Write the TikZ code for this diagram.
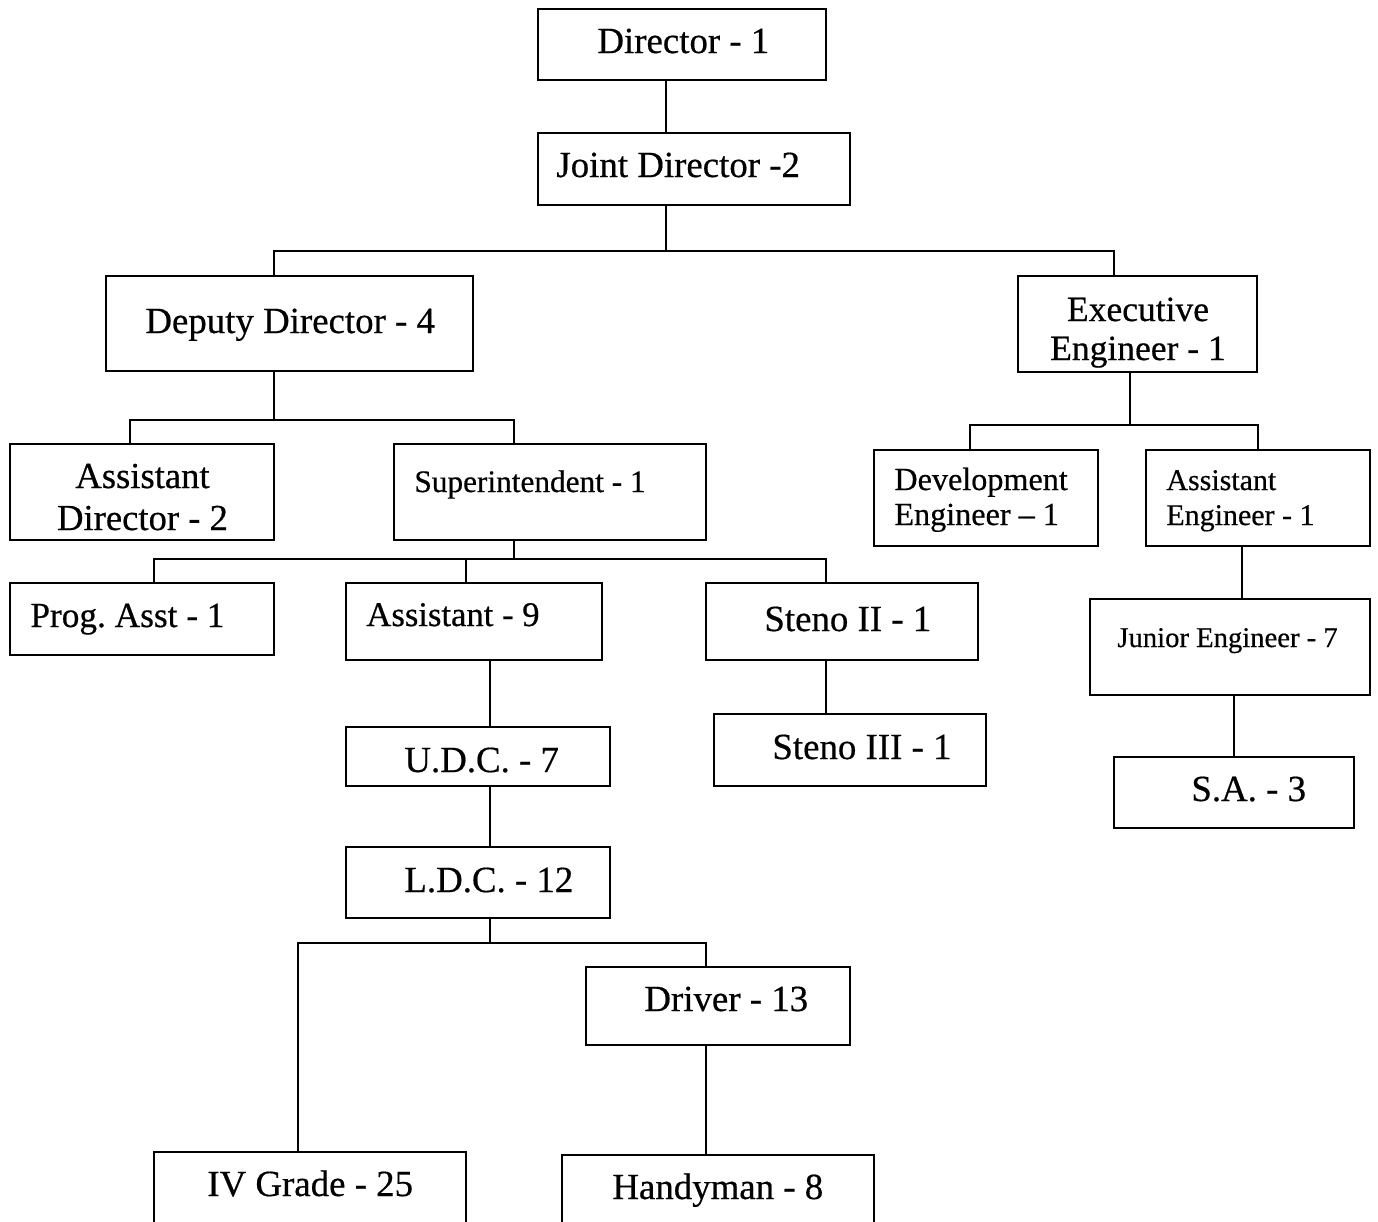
\documentclass[tikz,border=0pt]{standalone}
\usepackage{fontspec}
\setmainfont{Liberation Serif}[Scale=1.11, FakeBold=0.5]
\usetikzlibrary{positioning}

\tikzset{
  post/.style={draw, line width=1pt, inner sep=0pt},
  title/.style={anchor=base west, inner sep=0pt, font=\fontsize{16.6}{20}\selectfont},
  link/.style={line width=1pt},
}

\begin{document}
\begin{tikzpicture}[x=0.5pt,y=-0.5pt]
\useasboundingbox (0,0) rectangle (1378,1222);
\clip (0,0) rectangle (1378,1222);

% boxes
\node[post, minimum width=144pt, minimum height=35.5pt] (dir) at (682,44.5) {};
\node[post, minimum width=156pt, minimum height=36pt] (jd) at (694,169) {};
\node[post, minimum width=183.5pt, minimum height=47.5pt] (dd) at (289.5,323.5) {};
\node[post, minimum width=119.5pt, minimum height=48pt] (ee) at (1137.5,324) {};
\node[post, minimum width=132pt, minimum height=48pt] (ad) at (142,492) {};
\node[post, minimum width=156pt, minimum height=48pt] (sup) at (550,492) {};
\node[post, minimum width=112pt, minimum height=48pt] (de) at (986,498) {};
\node[post, minimum width=112pt, minimum height=48pt] (ae) at (1258,498) {};
\node[post, minimum width=132pt, minimum height=36pt] (pa) at (142,619) {};
\node[post, minimum width=128pt, minimum height=38.5pt] (as) at (474,621.5) {};
\node[post, minimum width=136pt, minimum height=38.5pt] (stwo) at (842,621.5) {};
\node[post, minimum width=132pt, minimum height=29.5pt] (udc) at (478,756.5) {};
\node[post, minimum width=136pt, minimum height=36pt] (sthree) at (850,750) {};
\node[post, minimum width=140pt, minimum height=48pt] (je) at (1230,647) {};
\node[post, minimum width=120pt, minimum height=35.5pt] (sa) at (1234,792.5) {};
\node[post, minimum width=132pt, minimum height=35.5pt] (ldc) at (478,882.5) {};
\node[post, minimum width=132pt, minimum height=39pt] (dr) at (718,1006) {};
\node[post, minimum width=156pt, minimum height=44pt] (iv) at (310,1196) {};
\node[post, minimum width=156pt, minimum height=42.5pt] (hm) at (718,1197.5) {};

% texts
\node[title] (dirt) at (597,53) {Director - 1};
\node[title] (jdt) at (556,177) {Joint Director -2};
\node[title] (ddt) at (145,333) {Deputy Director - 4};
\node[title, anchor=base, align=center, font=\fontsize{16}{19.5}\selectfont] (eet) at (1138,360) {Executive\\Engineer - 1};
\node[title, anchor=base, align=center, font=\fontsize{16.5}{21}\selectfont] (adt) at (142.5,530) {Assistant\\Director - 2};
\node[title, font=\fontsize{14.1}{17}\selectfont] (supt) at (414,492) {Superintendent - 1};
\node[title, align=left, font=\fontsize{14.5}{17.5}\selectfont] (det) at (894,525) {Development\\Engineer -- 1};
\node[title, align=left, font=\fontsize{13.5}{17.5}\selectfont] (aet) at (1166,525) {Assistant\\Engineer - 1};
\node[title, font=\fontsize{15.9}{19}\selectfont] (pat) at (30,627) {Prog.\ Asst - 1};
\node[title, font=\fontsize{15.6}{19}\selectfont] (ast) at (366,626) {Assistant - 9};
\node[title] (stwot) at (764,631) {Steno II - 1};
\node[title] (udct) at (404,772) {U.D.C. - 7};
\node[title] (sthreet) at (772,759) {Steno III - 1};
\node[title, font=\fontsize{12.9}{16}\selectfont] (jet) at (1117,647) {Junior Engineer - 7};
\node[title] (sat) at (1191,801) {S.A. - 3};
\node[title] (ldct) at (404,892) {L.D.C. - 12};
\node[title] (drt) at (644,1011) {Driver - 13};
\node[title] (ivt) at (207,1196) {IV Grade - 25};
\node[title] (hmt) at (612,1199) {Handyman - 8};

% buses
\coordinate (jdbus) at (666,251);
\coordinate (ddbus) at (274,420);
\coordinate (eebus) at (1130,425);
\coordinate (supbus) at (514,559);
\coordinate (ldcbus) at (490,943);

% connectors
\draw[link] ([xshift=-8pt]dir.south) -- ([xshift=-14pt]jd.north);
\draw[link] ([xshift=-14pt]jd.south) -- (jdbus);
\draw[link] ([xshift=-7.75pt]dd.north) |- (jdbus) -| ([xshift=-11.75pt]ee.north);
\draw[link] ([xshift=-7.75pt]dd.south) -- (ddbus);
\draw[link] ([xshift=-6pt]ad.north) |- (ddbus) -| ([xshift=-18pt]sup.north);
\draw[link] ([xshift=-3.75pt]ee.south) -- (eebus);
\draw[link] ([xshift=-8pt]de.north) |- (eebus) -| (ae.north);
\draw[link] ([xshift=-18pt]sup.south) -- (supbus);
\draw[link] ([xshift=6pt]pa.north) |- (supbus) -| ([xshift=-8pt]stwo.north);
\draw[link] ([xshift=-4pt]as.north) -- ([xshift=-4pt]as.north |- supbus);
\draw[link] ([xshift=8pt]as.south) -- ([xshift=6pt]udc.north);
\draw[link] ([xshift=6pt]udc.south) -- ([xshift=6pt]ldc.north);
\draw[link] ([xshift=-8pt]stwo.south) -- ([xshift=-12pt]sthree.north);
\draw[link] ([xshift=-8pt]ae.south) -- ([xshift=6pt]je.north);
\draw[link] ([xshift=2pt]je.south) -- (sa.north);
\draw[link] ([xshift=6pt]ldc.south) -- (ldcbus);
\draw[link] ([xshift=-6pt]iv.north) |- (ldcbus) -| ([xshift=-6pt]dr.north);
\draw[link] ([xshift=-6pt]dr.south) -- ([xshift=-6pt]hm.north);

\end{tikzpicture}
\end{document}
